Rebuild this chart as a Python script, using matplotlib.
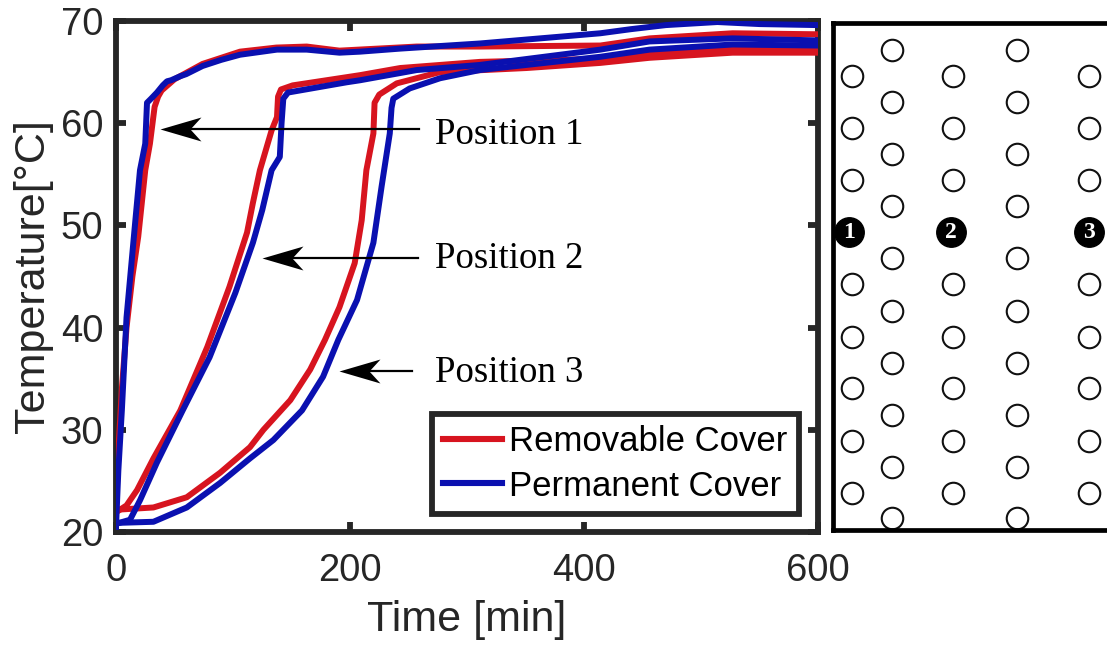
import matplotlib
matplotlib.use('Agg')
import matplotlib.pyplot as plt
from matplotlib.path import Path

W, H = 1107, 649
DARK = '#262626'
RED = '#d7141f'
BLUE = '#0a10b0'

# --- temperature curves (time in min, temperature in C) ---
t_rem_1 = [0, 2, 5, 9, 14, 19, 25, 29, 33, 36, 39, 50, 74, 106, 137, 163, 191, 257, 311, 414, 456, 527, 600]
y_rem_1 = [22, 28, 34, 40, 45, 48.9, 55.4, 58, 61.6, 62.6, 63.2, 64.3, 65.8, 67, 67.4, 67.5, 67.1, 67.5, 67.5, 67.6, 68.3, 68.8, 68.7]
t_per_1 = [0, 2, 5, 9, 16, 20.5, 25, 26.5, 30, 35, 40, 43.6, 47, 55, 60, 74, 90, 106, 137.6, 163, 191, 208.5, 243, 311, 414, 440, 470, 514, 550, 600]
y_per_1 = [20.5, 26, 31.9, 41, 49.8, 55.4, 58, 62, 62.4, 63, 63.7, 64.1, 64.2, 64.6, 64.8, 65.6, 66.2, 66.7, 67.2, 67.2, 66.9, 67, 67.3, 67.8, 68.8, 69.2, 69.6, 69.9, 69.7, 69.6]

t_rem_2 = [1, 9, 18, 32, 55, 78, 97, 112, 117, 123, 133, 137.6, 138.5, 141, 151, 197, 208.5, 243, 311, 414, 456, 527, 600]
y_rem_2 = [22, 22.6, 24.1, 27.2, 31.9, 38.1, 44, 49.3, 52.2, 55.4, 59.3, 60.6, 62.6, 63.3, 63.7, 64.5, 64.7, 65.4, 66, 66.3, 66.8, 67.3, 67.2]
t_per_2 = [0, 12, 20.5, 35, 57, 80, 102, 117, 125, 133, 140, 141.5, 143, 147, 197, 208.5, 257, 311, 414, 456, 527, 600]
y_per_2 = [20.8, 21.2, 23.1, 26.8, 31.9, 37.1, 43.4, 48.3, 51.5, 55.4, 56.7, 60, 62.4, 63, 64, 64.2, 65.2, 65.7, 67.2, 68, 68.3, 68.1]

t_rem_3 = [1, 3.4, 32, 60.5, 89, 114.5, 126, 149, 166, 178.6, 191, 204, 210, 214, 220, 221, 225, 240, 277, 351, 414, 456, 527, 600]
y_rem_3 = [22.2, 22.2, 22.4, 23.4, 25.8, 28.3, 30, 32.9, 35.9, 38.8, 42, 46.3, 50.5, 55.4, 59, 62, 62.8, 63.9, 65, 65.4, 65.9, 66.4, 66.9, 66.9]
t_per_3 = [0, 3.4, 32, 60.5, 89, 114.5, 134.5, 159, 177, 190, 206, 220, 227, 234, 235.5, 237, 251, 277, 311, 414, 456, 527, 600]
y_per_3 = [20.8, 20.9, 21, 22.4, 24.8, 27.2, 29, 31.9, 35.2, 38.8, 42.7, 48.3, 53.8, 59, 61.5, 62.4, 63.4, 64.4, 65.2, 66.5, 67.2, 67.7, 67.6]

# --- arrows: tip time, tip temperature, tail time ---
arrow_tip_t = [37.6, 124.8, 190.6]
arrow_tip_y = [59.4, 46.8, 35.75]
arrow_end_t = [259, 258, 253]
position_names = ['Position 1', 'Position 2', 'Position 3']
position_label_y = [57.97, 45.83, 34.7]

# --- thermocouple layout, right panel (image pixels) ---
col_short = [852.3, 952.7, 1089.3]
rows_short = [76, 128, 180, 284.3, 336.7, 388, 440.7, 492.7]
col_tall = [892.3, 1017.3]
rows_tall = [50, 102, 154, 206, 258, 310.7, 362.7, 414.7, 467, 518.3]
marked_x = [849, 951, 1089]
marked_y = [232, 232, 232]
marked_labels = ['1', '2', '3']


def axes_box(x0, y0, x1, y1):
    return [x0 / W, 1 - y1 / H, (x1 - x0) / W, (y1 - y0) / H]


plt.rcParams['font.family'] = ['Liberation Sans', 'DejaVu Sans']
fig = plt.figure(figsize=(W / 100, H / 100), dpi=100)

# --- left panel ---
ax = fig.add_axes(axes_box(116, 21, 818, 532))
lw = 4.3
for t, y in [(t_rem_1, y_rem_1), (t_rem_2, y_rem_2), (t_rem_3, y_rem_3)]:
    ax.plot(t, y, color=RED, lw=lw, zorder=3)
for t, y in [(t_per_1, y_per_1), (t_per_2, y_per_2), (t_per_3, y_per_3)]:
    ax.plot(t, y, color=BLUE, lw=lw, zorder=3.1)

ax.set_xlim(0, 600)
ax.set_ylim(20, 70)
ax.set_xticks([0, 200, 400, 600])
ax.set_yticks([20, 30, 40, 50, 60, 70])
ax.tick_params(direction='in', length=7.2, width=4.2, color=DARK, labelcolor=DARK,
               labelsize=27.5, top=True, right=True)
ax.tick_params(axis='x', pad=15)
ax.tick_params(axis='y', pad=9)
for s in ax.spines.values():
    s.set_linewidth(4.2)
    s.set_color(DARK)
ax.set_xlabel('Time [min]', fontsize=31, color=DARK, labelpad=8)
ax.set_ylabel('Temperature[\u00b0C]', fontsize=31, color=DARK, labelpad=6)

# arrow head: pointed tip with a notched back
head = Path([(0, 0), (41, 12), (30, 0), (41, -12), (0, 0)],
            [Path.MOVETO, Path.LINETO, Path.LINETO, Path.LINETO, Path.CLOSEPOLY])
for tip_t, tip_y, end_t, name, lab_y in zip(arrow_tip_t, arrow_tip_y, arrow_end_t, position_names, position_label_y):
    ax.plot([tip_t + 20, end_t], [tip_y, tip_y], color='black', lw=1.6, zorder=4)
    ax.plot([tip_t], [tip_y], marker=head, ms=59, color='black', mew=0, zorder=4)
    ax.text(272.6, lab_y, name, family='Liberation Serif', fontsize=26.5, color='black', va='baseline', ha='left')

ax.plot([], [], color=RED, lw=4.4, label='Removable Cover')
ax.plot([], [], color=BLUE, lw=4.4, label='Permanent Cover')
leg = ax.legend(loc='lower right', bbox_to_anchor=((799 - 116) / 702, (532 - 514) / 511),
                borderaxespad=0, fontsize=25, handlelength=1.7, handletextpad=0.2,
                labelspacing=0.32, borderpad=0.33, fancybox=False, framealpha=1, labelcolor='black')
leg.get_frame().set_edgecolor(DARK)
leg.get_frame().set_linewidth(4.2)
leg.set_zorder(5)

# --- right panel ---
ax2 = fig.add_axes(axes_box(833, 22.5, W, 530))
ax2.set_xlim(833, W)
ax2.set_ylim(530, 22.5)
ax2.set_xticks([])
ax2.set_yticks([])
ax2.spines['right'].set_visible(False)
for name in ['left', 'top', 'bottom']:
    ax2.spines[name].set_linewidth(3.4)
    ax2.spines[name].set_color('black')

ring = dict(s=240, facecolor='white', edgecolor='#111111', linewidth=1.5, clip_on=False, zorder=2)
for x in col_short:
    ax2.scatter([x] * len(rows_short), rows_short, **ring)
for x in col_tall:
    ax2.scatter([x] * len(rows_tall), rows_tall, **ring)
ax2.scatter(marked_x, marked_y, s=450, color='black', clip_on=False, zorder=3)
for x, y, lab in zip(marked_x, marked_y, marked_labels):
    ax2.text(x, y, lab, color='white', family='Liberation Serif', weight='bold', fontsize=17,
             ha='center', va='center', zorder=4)

fig.savefig('out.png', dpi=100)
